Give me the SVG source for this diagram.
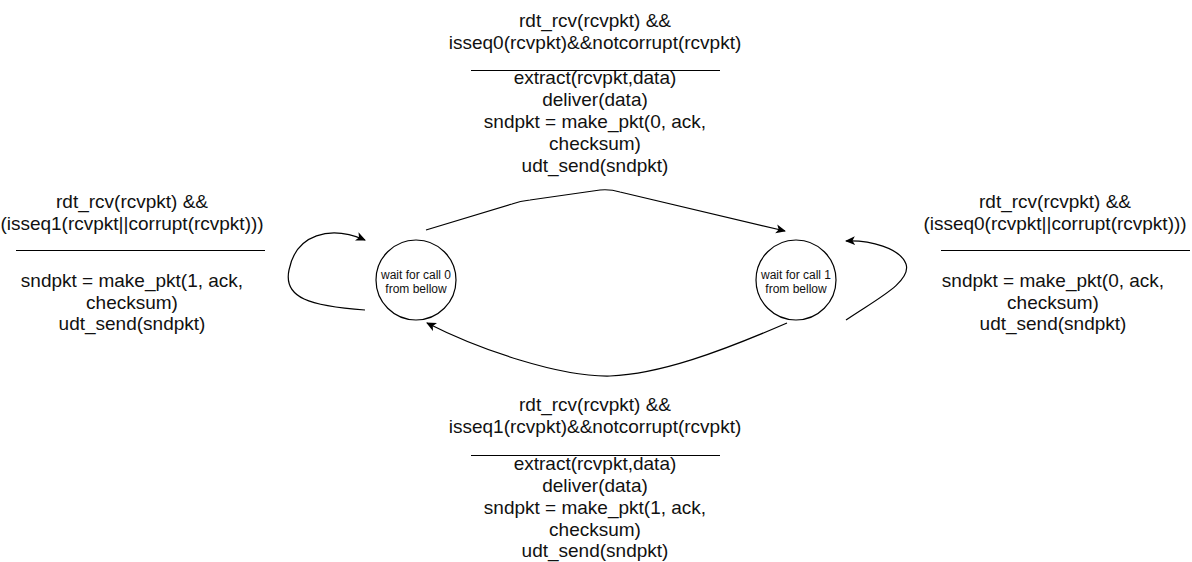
<svg xmlns="http://www.w3.org/2000/svg" width="1192" height="562" viewBox="0 0 1192 562">
<style>
text{font-family:"Liberation Sans",Arial,sans-serif;fill:#111;text-anchor:middle}
.lbl{font-size:19px}
.st{font-size:12px}
.rule{stroke:#000;stroke-width:1}
.edge{fill:none;stroke:#000;stroke-width:1.2}
circle{fill:#fff;stroke:#000;stroke-width:1.2}
</style>
<defs>
<marker id="arr" viewBox="0 0 10 10" refX="9" refY="5" markerWidth="10" markerHeight="10" markerUnits="userSpaceOnUse" orient="auto">
<path d="M0,0.5 L10,5 L0,9.5 L2.5,5 Z" fill="#000"/>
</marker>
</defs>
<rect width="1192" height="562" fill="#fff"/>
<g id="connectors">
<path class="edge" d="M426,230 L512,204 Q520,201 530,200 L600,190 Q610,189 620,192 L785,231" marker-end="url(#arr)"/>
<path class="edge" d="M787,323 C720,352 660,374 610,376 C560,377 480,350 427,323" marker-end="url(#arr)"/>
<path class="edge" d="M365,310 C310,306 283,298 289,270 C296,234 330,225 365,240" marker-end="url(#arr)"/>
<path class="edge" d="M846,320 C875,300 912,282 906,264 C900,248 870,240 846,241" marker-end="url(#arr)"/>
</g>
<g id="state0">
<circle cx="416" cy="280" r="40"/>
<text class="st" x="416" y="279">wait for call 0</text>
<text class="st" x="416" y="293">from bellow</text>
</g>
<g id="state1">
<circle cx="796" cy="280" r="40"/>
<text class="st" x="796" y="279">wait for call 1</text>
<text class="st" x="796" y="293">from bellow</text>
</g>
<g id="label-top">
<text class="lbl" x="595" y="27">rdt_rcv(rcvpkt) &amp;&amp;</text>
<text class="lbl" x="595" y="49">isseq0(rcvpkt)&amp;&amp;notcorrupt(rcvpkt)</text>
<line class="rule" x1="471" y1="70.5" x2="720" y2="70.5"/>
<text class="lbl" x="595" y="84">extract(rcvpkt,data)</text>
<text class="lbl" x="595" y="106">deliver(data)</text>
<text class="lbl" x="595" y="128">sndpkt = make_pkt(0, ack,</text>
<text class="lbl" x="595" y="150">checksum)</text>
<text class="lbl" x="595" y="172">udt_send(sndpkt)</text>
</g>
<g id="label-bottom">
<text class="lbl" x="595" y="411">rdt_rcv(rcvpkt) &amp;&amp;</text>
<text class="lbl" x="595" y="433">isseq1(rcvpkt)&amp;&amp;notcorrupt(rcvpkt)</text>
<line class="rule" x1="471" y1="455.5" x2="720" y2="455.5"/>
<text class="lbl" x="595" y="470">extract(rcvpkt,data)</text>
<text class="lbl" x="595" y="492">deliver(data)</text>
<text class="lbl" x="595" y="514">sndpkt = make_pkt(1, ack,</text>
<text class="lbl" x="595" y="536">checksum)</text>
<text class="lbl" x="595" y="557">udt_send(sndpkt)</text>
</g>
<g id="label-left">
<text class="lbl" x="132" y="208">rdt_rcv(rcvpkt) &amp;&amp;</text>
<text class="lbl" x="132" y="230">(isseq1(rcvpkt||corrupt(rcvpkt)))</text>
<line class="rule" x1="16" y1="250.5" x2="265" y2="250.5"/>
<text class="lbl" x="132" y="287">sndpkt = make_pkt(1, ack,</text>
<text class="lbl" x="132" y="309">checksum)</text>
<text class="lbl" x="132" y="330">udt_send(sndpkt)</text>
</g>
<g id="label-right">
<text class="lbl" x="1055" y="208">rdt_rcv(rcvpkt) &amp;&amp;</text>
<text class="lbl" x="1055" y="230">(isseq0(rcvpkt||corrupt(rcvpkt)))</text>
<line class="rule" x1="941" y1="250.5" x2="1190" y2="250.5"/>
<text class="lbl" x="1053" y="287">sndpkt = make_pkt(0, ack,</text>
<text class="lbl" x="1053" y="309">checksum)</text>
<text class="lbl" x="1053" y="330">udt_send(sndpkt)</text>
</g>
</svg>
